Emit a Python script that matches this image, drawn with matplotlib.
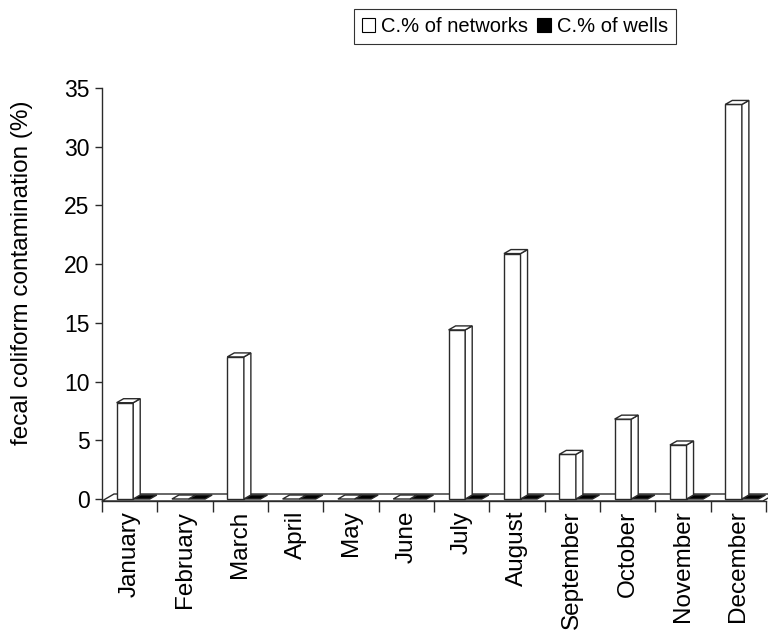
import matplotlib
matplotlib.use("Agg")
import matplotlib.pyplot as plt
from matplotlib.patches import Polygon, Patch
import numpy as np

plt.rcParams['font.family'] = ['Liberation Sans', 'DejaVu Sans']

months = ["January", "February", "March", "April", "May", "June", "July",
          "August", "September", "October", "November", "December"]
networks = [8.2, 0, 12.1, 0, 0, 0, 14.4, 20.9, 3.8, 6.8, 4.6, 33.6]
wells = [0, 0, 0, 0, 0, 0, 0, 0, 0, 0, 0, 0]
series_names = ["C.% of networks", "C.% of wells"]
y_ticks = [0, 5, 10, 15, 20, 25, 30, 35]

DPI = 100
W, H = 768, 636
fig = plt.figure(figsize=(W / DPI, H / DPI), dpi=DPI)
ax_l, ax_r, ax_t, ax_b = 102, 766, 88, 501
ax = fig.add_axes([ax_l / W, 1 - ax_b / H, (ax_r - ax_l) / W, (ax_b - ax_t) / H])

n = len(months)
ax.set_xlim(0, n)
ax.set_ylim(-0.17, 35)
fig.canvas.draw()

# depth offsets (pixels) for the floor and the bar boxes
floor_dx, floor_dy = 12, 7
bar_dx, bar_dy = 7, 4
bar_w = 0.3
edge = "#2a2a2a"


def to_px(x, y):
    return ax.transData.transform((x, y))


def box(x0, x1, v, face, side_face, top_face):
    fl = to_px(x0, 0)
    fr = to_px(x1, 0)
    tl = to_px(x0, v)
    tr = to_px(x1, v)
    d = np.array([bar_dx, bar_dy])
    polys = []
    if v > 0:
        polys.append(([fl, fr, tr, tl], face))
        polys.append(([fr, fr + d, tr + d, tr], side_face))
    polys.append(([tl, tr, tr + d, tl + d], top_face))
    for verts, fc in polys:
        ax.add_patch(Polygon(verts, closed=True, facecolor=fc, edgecolor=edge,
                             linewidth=1.0, transform=None, clip_on=False,
                             joinstyle="miter", zorder=3))


# floor of the plot area
p0 = to_px(0, -0.17)
p1 = to_px(n, -0.17)
p1[0] -= 3
off = np.array([floor_dx, floor_dy])
floor = Polygon([p0, p1, p1 + off, p0 + off], closed=True, facecolor="white",
                edgecolor=edge, linewidth=1.0, transform=None, clip_on=False,
                zorder=2)
ax.add_patch(floor)

for i in range(n):
    # wells first, then the network column in front of it
    box(i + 0.5 + 0.064, i + 0.5 + 0.064 + bar_w, wells[i], "black", "black", "black")
    box(i + 0.5 - 0.236, i + 0.5 - 0.236 + bar_w, networks[i], "white", "white", "white")

# axes styling
for s in ["top", "right"]:
    ax.spines[s].set_visible(False)
ax.spines["left"].set_color(edge)
ax.spines["bottom"].set_color(edge)
ax.spines["left"].set_linewidth(1.0)
ax.spines["bottom"].set_linewidth(1.0)
ax.patch.set_visible(False)

ax.set_yticks(y_ticks)
ax.set_yticklabels([str(t) for t in y_ticks])
ax.tick_params(axis="y", direction="out", length=5, width=1.0, color=edge,
               labelsize=16.5, pad=4)

ax.set_xticks(np.arange(0, n + 1))
ax.set_xticklabels([])
ax.set_xticks(np.arange(n) + 0.5, minor=True)
ax.set_xticklabels(months, minor=True, rotation=90, fontsize=17.5)
ax.tick_params(axis="x", which="major", direction="out", length=8, width=1.0,
               color=edge)
ax.tick_params(axis="x", which="minor", length=0, pad=7)

fig.text(22 / W, 1 - 273 / H, "fecal coliform contamination (%)", rotation=90,
         ha="center", va="center", fontsize=17.5)

handles = [Patch(facecolor="white", edgecolor="black", linewidth=0.8),
           Patch(facecolor="black", edgecolor="black", linewidth=0.8)]
leg = fig.legend(handles, series_names, loc="center", ncol=2,
                 bbox_to_anchor=(515 / W, 1 - 26.5 / H), fontsize=14.5,
                 frameon=True, fancybox=False, handlelength=0.65,
                 handleheight=0.65, handletextpad=0.3, columnspacing=0.45,
                 borderpad=0.4, borderaxespad=0)
leg.get_frame().set_edgecolor("black")
leg.get_frame().set_linewidth(0.8)

fig.savefig("out.png", dpi=DPI, facecolor="white")
